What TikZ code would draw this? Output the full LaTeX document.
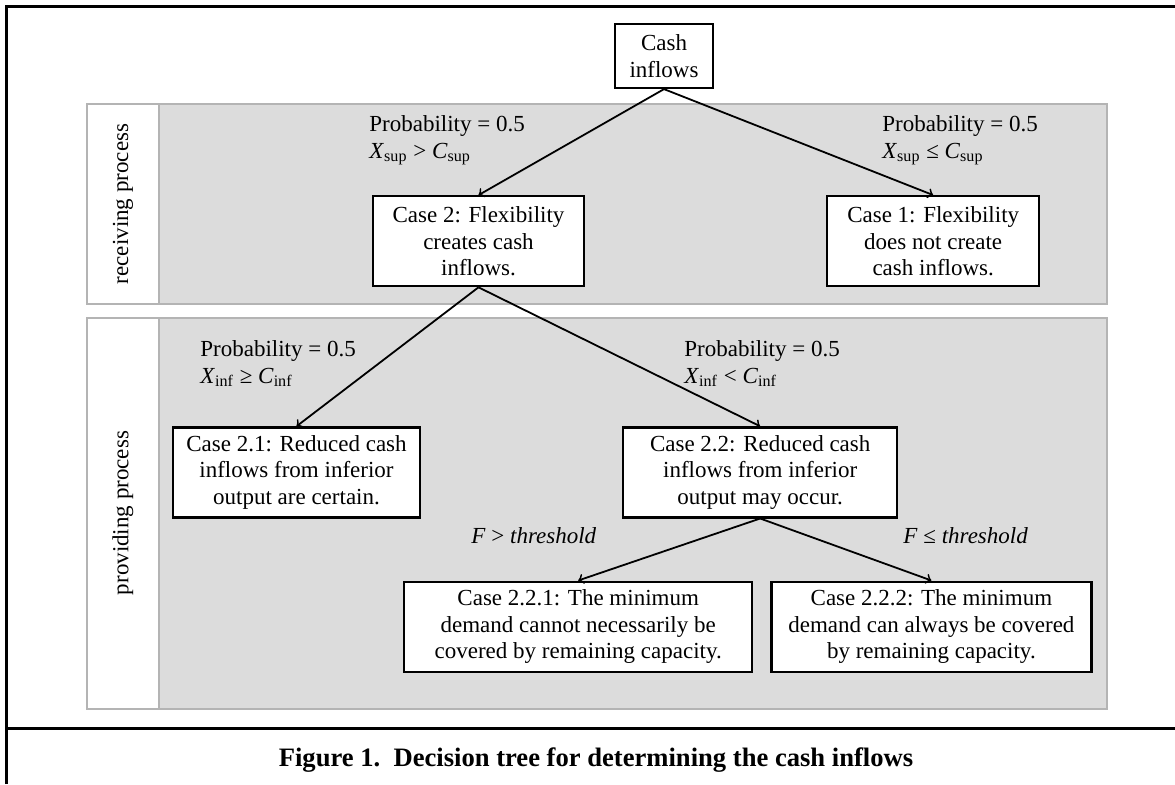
\documentclass[tikz,border=0pt]{standalone}
\usepackage{fontspec}
\setmainfont{Liberation Serif}
\usetikzlibrary{shapes,arrows,positioning}

\definecolor{lanefill}{HTML}{DCDCDC}
\definecolor{laneline}{HTML}{B4B4B4}

\tikzset{
    casebox/.style={rectangle, draw, line width=1.1pt, fill=white, align=center, inner sep=2pt, minimum height=45pt, font=\fontsize{11.5}{13.4}\selectfont},
    condlabel/.style={anchor=north west, inner sep=0pt, align=left, font=\fontsize{11.5}{13.4}\selectfont},
    lanelabel/.style={rotate=90, inner sep=0pt, font=\fontsize{11.5}{13.4}\selectfont},
    branch/.style={->, line width=0.9pt},
    lane/.style={draw=laneline, line width=1.3pt}
}

\begin{document}
\begin{tikzpicture}[x=0.5pt, y=-0.5pt]
    \useasboundingbox (0,0) rectangle (1175,784);

    %-----Frame-----
    \draw[line width=1.5pt] (6,784) -- (6,6) -- (1175,6);
    \draw[line width=1.5pt] (6,728) -- (1175,728);

    %-----Lanes-----
    % Receiving Process Lane
    \draw[lane, fill=lanefill] (159,104) rectangle (1107,304);
    \draw[lane, fill=white] (87,104) rectangle (159,304);
    \node[lanelabel] (recv) at (123,204) {receiving process};

    % Providing Process Lane
    \draw[lane, fill=lanefill] (159,318) rectangle (1107,709);
    \draw[lane, fill=white] (87,318) rectangle (159,709);
    \node[lanelabel] (prov) at (123,513) {providing process};

    %-----Cases-----
    % Cash Inflows
    \node[casebox, minimum width=49pt, minimum height=32pt] (cash) at (664,56) {%
        Cash\\inflows
    };

    % Case 2
    \node[casebox, minimum width=105.5pt, below=53pt of cash, xshift=-92.75pt] (case2) {%
        Case 2: Flexibility\\
        creates cash\\
        inflows.
    };

    % Case 1
    \node[casebox, minimum width=106pt, right=120.5pt of case2] (case1) {%
        Case 1: Flexibility\\
        does not create\\
        cash inflows.
    };

    % Case 2.1
    \node[casebox, minimum width=123.5pt, below=69.5pt of case2, xshift=-91pt] (case21) {%
        Case 2.1: Reduced cash\\
        inflows from inferior\\
        output are certain.
    };

    % Case 2.2
    \node[casebox, minimum width=137pt, right=100.5pt of case21] (case22) {%
        Case 2.2: Reduced cash\\
        inflows from inferior\\
        output may occur.
    };

    % Case 2.2.1
    \node[casebox, minimum width=174pt, below=31pt of case22, xshift=-91pt] (case221) {%
        Case 2.2.1: The minimum\\
        demand cannot necessarily be\\
        covered by remaining capacity.
    };

    % Case 2.2.2
    \node[casebox, minimum width=160pt, right=8.5pt of case221] (case222) {%
        Case 2.2.2: The minimum\\
        demand can always be covered\\
        by remaining capacity.
    };

    %-----Branches-----
    \draw[branch] (cash.south) -- (case2.north);
    \draw[branch] (cash.south) -- (case1.north);
    \draw[branch] (case2.south) -- (case21.north);
    \draw[branch] (case2.south) -- (case22.north);
    \draw[branch] (case22.south) -- (case221.north);
    \draw[branch] (case22.south) -- (case222.north);

    %-----Conditions-----
    \node[condlabel] (supgt) at (369,115) {%
        Probability = 0.5\\
        \textit{X}\textsubscript{sup} > \textit{C}\textsubscript{sup}
    };
    \node[condlabel] (suple) at (882,115) {%
        Probability = 0.5\\
        \textit{X}\textsubscript{sup} ≤ \textit{C}\textsubscript{sup}
    };
    \node[condlabel] (infge) at (200,340) {%
        Probability = 0.5\\
        \textit{X}\textsubscript{inf} ≥ \textit{C}\textsubscript{inf}
    };
    \node[condlabel] (inflt) at (684,340) {%
        Probability = 0.5\\
        \textit{X}\textsubscript{inf} < \textit{C}\textsubscript{inf}
    };
    \node[condlabel] (fgt) at (471,527) {\textit{F} > \textit{threshold}};
    \node[condlabel] (fle) at (903,527) {\textit{F} ≤ \textit{threshold}};

    %-----Caption-----
    \node[font=\fontsize{13.3}{15}\selectfont\bfseries] (caption) at (596,760) {%
        Figure 1.\ \ Decision tree for determining the cash inflows
    };

\end{tikzpicture}
\end{document}
